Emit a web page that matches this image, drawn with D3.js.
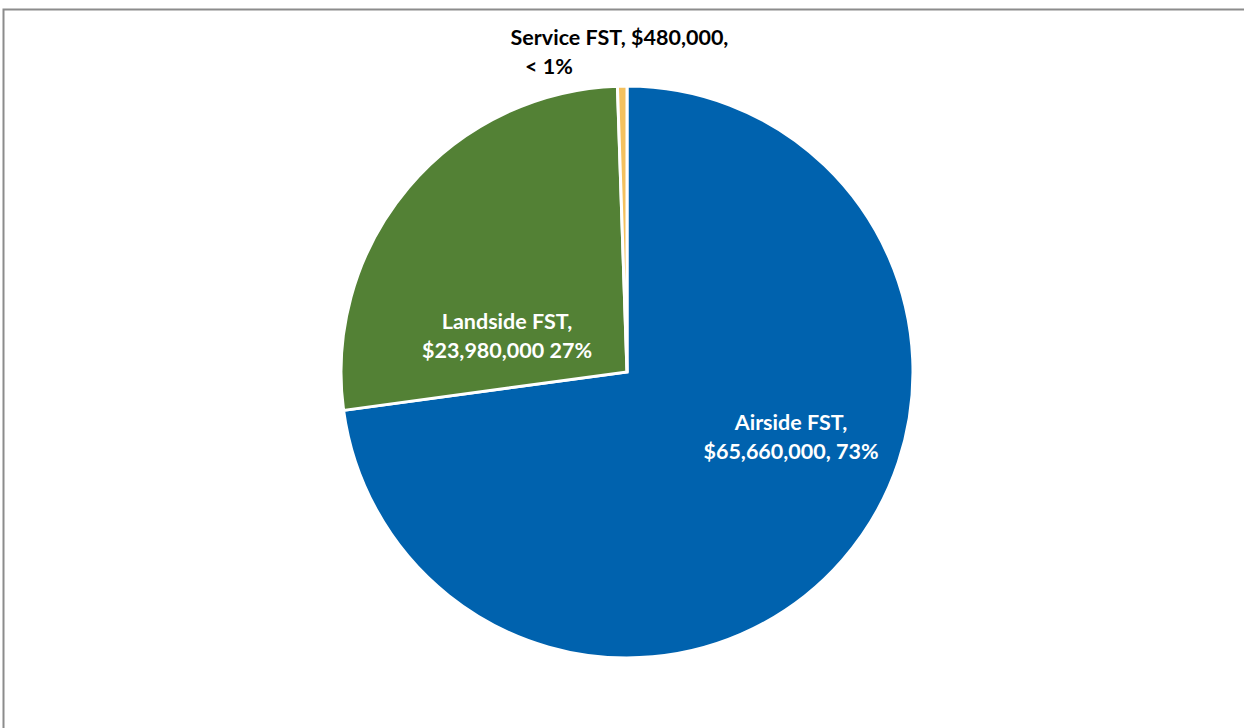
<!DOCTYPE html>
<html>
<head>
<meta charset="utf-8">
<script src="https://cdn.jsdelivr.net/npm/d3@7"></script>
<style>
  html, body { margin: 0; padding: 0; background: #ffffff; }
  svg { display: block; }
  .lbl { font-family: Lato, "Open Sans", sans-serif; font-weight: 700; font-size: 21.5px; }
</style>
</head>
<body>
<svg id="chart" width="1244" height="728"></svg>
<script>
// Facility fee split by component (dollars)
const categories = ["Airside FST", "Landside FST", "Service FST"];
const values = [65660000, 23980000, 480000];
const percentLabels = ["73%", "27%", "< 1%"];
const colors = ["#0062AE", "#538135", "#F4C15E"];

const fmt = d3.format("$,");

const svg = d3.select("#chart");
const W = 1244, H = 728;

// Outer frame of the chart area
svg.append("rect")
  .attr("x", 3.5).attr("y", 9.5)
  .attr("width", W + 20).attr("height", H + 20)
  .attr("fill", "#ffffff")
  .attr("stroke", "#8c8c8c")
  .attr("stroke-width", 2);

const cx = 627, cy = 372, radius = 286;

const data = categories.map((c, i) => ({ name: c, value: values[i], pct: percentLabels[i], color: colors[i] }));

const pie = d3.pie().value(d => d.value).sort(null);
const arc = d3.arc().innerRadius(0).outerRadius(radius);

const g = svg.append("g").attr("transform", `translate(${cx},${cy})`);

g.selectAll("path.slice")
  .data(pie(data))
  .join("path")
  .attr("class", "slice")
  .attr("d", arc)
  .attr("fill", d => d.data.color)
  .attr("stroke", "#ffffff")
  .attr("stroke-width", 3)
  .attr("stroke-linejoin", "miter");

// Data labels: name, value and share
const labelLines = [
  { lines: [`${categories[0]},`, `${fmt(values[0])}, ${percentLabels[0]}`], x: 791, y: 430, anchor: "middle", fill: "#ffffff" },
  { lines: [`${categories[1]},`, `${fmt(values[1])} ${percentLabels[1]}`], x: 507, y: 329, anchor: "middle", fill: "#ffffff" },
  { lines: [`${categories[2]}, ${fmt(values[2])},`, `${percentLabels[2]}`], x: 619.5, y: 45, anchor: "middle", fill: "#000000", second: { x: 525, anchor: "start" } }
];

labelLines.forEach(L => {
  const t = svg.append("text")
    .attr("class", "lbl")
    .attr("fill", L.fill);
  L.lines.forEach((line, i) => {
    const ts = t.append("tspan")
      .attr("y", L.y + i * 28.5)
      .text(line);
    if (i === 1 && L.second) {
      ts.attr("x", L.second.x).attr("text-anchor", L.second.anchor);
    } else {
      ts.attr("x", L.x).attr("text-anchor", L.anchor);
    }
  });
});
</script>
</body>
</html>
